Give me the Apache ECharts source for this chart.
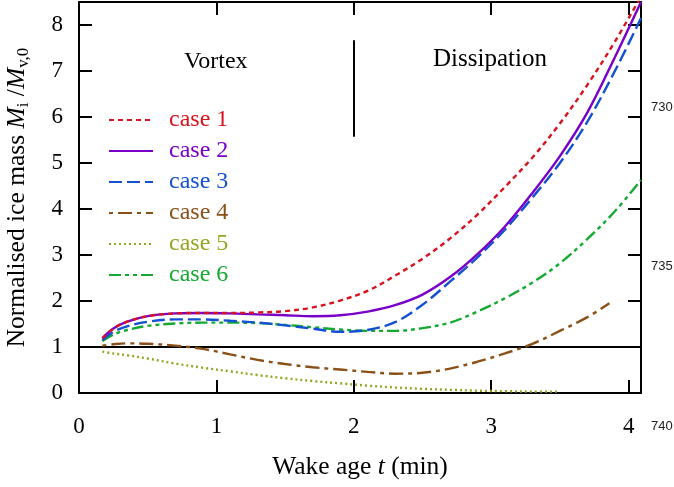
<!DOCTYPE html>
<html>
<head>
<meta charset="utf-8">
<script src="https://cdn.jsdelivr.net/npm/echarts@6/dist/echarts.min.js"></script>
<style>
html,body{margin:0;padding:0;background:#fff;}
#chart{width:674px;height:487px;}
</style>
</head>
<body>
<div id="chart"></div>
<script>
// ---- data (wake age in minutes, normalised ice mass) ----
const ages  = [0.17,0.25,0.35,0.5,0.7,0.9,1.1,1.3,1.5,1.7,1.9,2.1,2.3,2.5,2.7,2.9,3.1,3.3,3.5,3.7,3.9,4.09];
const ages4 = [0.17,0.25,0.35,0.5,0.7,0.9,1.1,1.3,1.5,1.7,1.9,2.1,2.3,2.5,2.7,2.9,3.1,3.3,3.5,3.7,3.86];
const ages5 = [0.17,0.25,0.35,0.5,0.7,0.9,1.1,1.3,1.5,1.7,1.9,2.1,2.3,2.5,2.7,2.9,3.1,3.3,3.5];
const case1 = [1.19,1.40,1.55,1.67,1.73,1.74,1.74,1.75,1.78,1.86,2.01,2.22,2.55,2.92,3.36,3.88,4.48,5.12,5.86,6.70,7.64,8.62];
const case2 = [1.19,1.40,1.55,1.67,1.73,1.74,1.73,1.71,1.69,1.67,1.69,1.77,1.91,2.14,2.52,3.02,3.62,4.35,5.15,6.10,7.30,8.50];
const case3 = [1.15,1.33,1.45,1.55,1.60,1.60,1.57,1.53,1.47,1.40,1.33,1.37,1.54,1.92,2.42,2.95,3.55,4.25,5.00,5.90,7.00,8.15];
const case4 = [1.03,1.06,1.08,1.07,1.03,0.96,0.84,0.72,0.63,0.56,0.51,0.46,0.42,0.44,0.53,0.68,0.86,1.07,1.35,1.65,1.95];
const case5 = [0.90,0.86,0.82,0.75,0.64,0.55,0.47,0.39,0.32,0.26,0.21,0.16,0.12,0.09,0.07,0.05,0.04,0.03,0.03];
const case6 = [1.13,1.27,1.37,1.46,1.51,1.53,1.53,1.52,1.48,1.43,1.38,1.35,1.35,1.41,1.53,1.77,2.06,2.40,2.82,3.35,3.95,4.63];
const seriesNames = ['case 1','case 2','case 3','case 4','case 5','case 6'];
const referenceLevel = 1;
const phaseBoundary = [[2,5.57],[2,7.67]];
const lineNumbers = ['730','735','740'];

const colors = ['#d7141e','#7800c8','#1450d2','#8a5018','#97a522','#14aa32'];
const dashes = [[5,4],'solid',[13,5],[4,5,14,5],[2,3],[12,4,4,4,4,4]];

function pairs(xs, ys){ return xs.map((x,i)=>[x, ys[i]]); }
const xsets = [ages, ages, ages, ages4, ages5, ages];
const ysets = [case1, case2, case3, case4, case5, case6];

const serif = '"Liberation Serif","DejaVu Serif",serif';
const chart = echarts.init(document.getElementById('chart'), null, {renderer:'canvas'});

const series = seriesNames.map((n,i)=>({
  name: n,
  type: 'line',
  data: pairs(xsets[i], ysets[i]),
  smooth: 0.35,
  symbol: 'none',
  showSymbol: false,
  clip: true,
  z: 3 + (5 - i),
  lineStyle: {color: colors[i], width: 2.4, type: dashes[i]},
  itemStyle: {color: colors[i]},
  animation: false
}));

series.push({
  name: 'refs',
  type: 'line',
  data: [],
  symbol: 'none',
  animation: false,
  markLine: {
    silent: true,
    symbol: ['none','none'],
    label: {show: false},
    animation: false,
    lineStyle: {color: '#000', width: 2, type: 'solid'},
    data: [
      {yAxis: referenceLevel},
      [{coord: phaseBoundary[0]}, {coord: phaseBoundary[1]}]
    ]
  }
});

const axisCommon = {
  type: 'value',
  splitLine: {show: false},
  axisLine: {show: true, onZero: false, lineStyle: {color: '#000', width: 2}},
  axisTick: {show: true, inside: true, length: 13, lineStyle: {color: '#000', width: 2}},
  interval: 1,
  min: 0
};

const labelFmt = v => (Number.isInteger(v) ? String(v) : '');

chart.setOption({
  backgroundColor: '#fff',
  animation: false,
  grid: {left: 79, right: 33, top: 2, bottom: 94, containLabel: false, outerBoundsMode: 'none'},
  legend: {
    orient: 'vertical',
    left: 108,
    top: 108,
    padding: 0,
    itemWidth: 44,
    itemHeight: 14,
    itemGap: 7,
    itemStyle: {color: 'rgba(0,0,0,0)', borderWidth: 0, opacity: 0},
    data: seriesNames.map((n,i)=>({name: n, textStyle: {color: colors[i]}})),
    textStyle: {fontFamily: serif, fontSize: 24, lineHeight: 24, padding: [0,0,0,11]}
  },
  xAxis: [
    Object.assign({}, axisCommon, {
      position: 'bottom', max: 4.09,
      axisLabel: {show: true, margin: 22, fontFamily: serif, fontSize: 23, color: '#000', formatter: labelFmt},
      name: 'Wake age {it|t} (min)',
      nameLocation: 'middle',
      nameGap: 61,
      nameTextStyle: {fontFamily: serif, fontSize: 25.5, color: '#000',
        rich: {it: {fontFamily: serif, fontSize: 25.5, fontStyle: 'italic', color: '#000'}}}
    }),
    Object.assign({}, axisCommon, {
      position: 'top', max: 4.09,
      axisLabel: {show: false}
    })
  ],
  yAxis: [
    Object.assign({}, axisCommon, {
      position: 'left', max: 8.5,
      axisLabel: {show: true, margin: 16, fontFamily: serif, fontSize: 23, color: '#000', formatter: labelFmt},
      name: 'Normalised ice mass {it|M}{sub|i} /{it|M}{sub|v,0}',
      nameLocation: 'middle',
      nameGap: 47,
      nameRotate: 90,
      nameTextStyle: {fontFamily: serif, fontSize: 25.5, color: '#000', lineHeight: 30,
        rich: {
          it: {fontFamily: serif, fontSize: 25.5, fontStyle: 'italic', color: '#000', lineHeight: 30},
          sub: {fontFamily: serif, fontSize: 17, color: '#000', lineHeight: 18, verticalAlign: 'bottom'}
        }}
    }),
    Object.assign({}, axisCommon, {
      position: 'right', max: 8.5,
      axisLabel: {show: false}
    })
  ],
  graphic: [
    {type: 'text', left: 184, top: 50, style: {text: 'Vortex', font: '24px ' + serif, fill: '#000'}},
    {type: 'text', left: 433, top: 47, style: {text: 'Dissipation', font: '25px ' + serif, fill: '#000'}},
    {type: 'text', left: 651, top: 101, style: {text: lineNumbers[0], font: '13px "Liberation Sans",Arial,sans-serif', fill: '#222'}},
    {type: 'text', left: 651, top: 260, style: {text: lineNumbers[1], font: '13px "Liberation Sans",Arial,sans-serif', fill: '#222'}},
    {type: 'text', left: 651, top: 420, style: {text: lineNumbers[2], font: '13px "Liberation Sans",Arial,sans-serif', fill: '#222'}}
  ],
  series: series
});
</script>
</body>
</html>
